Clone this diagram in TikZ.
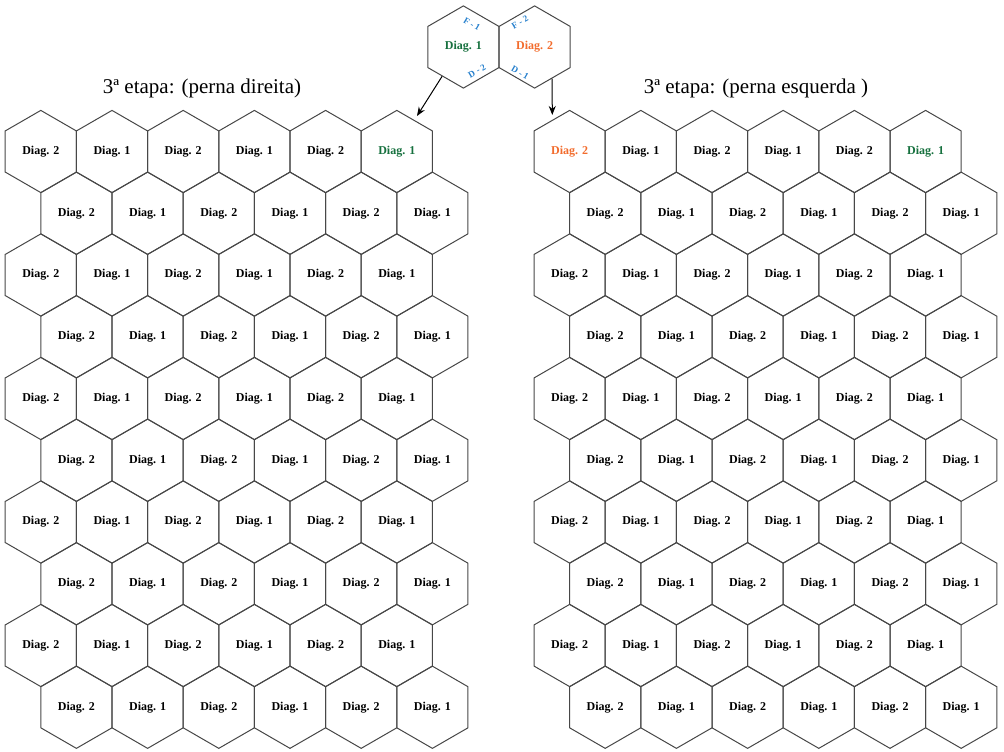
\documentclass[tikz,border=0pt]{standalone}
\usepackage{fontspec}
\setmainfont{Liberation Serif}
\usetikzlibrary{shapes.geometric,arrows.meta}

\definecolor{diaggreen}{RGB}{22,112,62}
\definecolor{diagorange}{RGB}{242,108,45}
\definecolor{diagblue}{RGB}{38,128,205}

\tikzset{
  hexa/.style={regular polygon, regular polygon sides=6, shape border rotate=30,
    minimum size=82.2pt, inner sep=0pt, draw=black!72, line width=1pt,
    font=\bfseries\fontsize{12}{12}\selectfont},
  facelab/.style={text=diagblue, inner sep=0pt, font=\bfseries\fontsize{9}{9}\selectfont},
  etapa/.style={inner sep=0pt, font=\fontsize{21}{21}\selectfont},
}

\begin{document}
\begin{tikzpicture}[x=1pt,y=-1pt]
\useasboundingbox (0,0) rectangle (1004,752);

% the two legs, 10 rows of 6 cells
\foreach \r in {1,...,10}{
  \foreach \c in {1,...,6}{
    \pgfmathsetmacro{\hx}{40.8+71.2*(\c-1)+35.6*(1-mod(\r,2))}
    \pgfmathsetmacro{\hy}{151.5+61.75*(\r-1)}
    \pgfmathtruncatemacro{\lab}{2-mod(\c+1,2)}
    \def\dcol{black}\ifnum\r=1 \ifnum\c=6 \def\dcol{diaggreen}\fi\fi
    \def\ecol{\dcol}\ifnum\r=1 \ifnum\c=1 \def\ecol{diagorange}\fi\fi
    \node[hexa,text=\dcol] at (\hx,\hy) (dir-\r-\c) {Diag. \lab};
    \node[hexa,text=\ecol] at (\hx+528.8,\hy) (esq-\r-\c) {Diag. \lab};
  }
}

\node[etapa] at (202,88) (tdir) {3ª etapa: (perna direita)};
\node[etapa] at (756,88) (tesq) {3ª etapa: (perna esquerda )};

% the pair on top
\node[hexa,text=diaggreen] at (463.4,47) (diag1) {Diag. 1};
\node[hexa,text=diagorange] at (534.6,47) (diag2) {Diag. 2};
\node[facelab,rotate=-30] at (472,24) (f1) {F - 1};
\node[facelab,rotate=30] at (520,22.5) (f2) {F - 2};
\node[facelab,rotate=30] at (477,71) (d2) {D - 2};
\node[facelab,rotate=-30] at (520,73) (d1) {D - 1};

\coordinate (tipdir) at (417,116);
\coordinate (tipesq) at (552.3,115);
\draw[line width=1pt,-{Stealth[length=9pt,width=7pt]}] (diag1.234.5) -- (tipdir);
\draw[line width=1pt,-{Stealth[length=9pt,width=7pt]}] (diag2.299.5) -- (tipesq);
\end{tikzpicture}
\end{document}
